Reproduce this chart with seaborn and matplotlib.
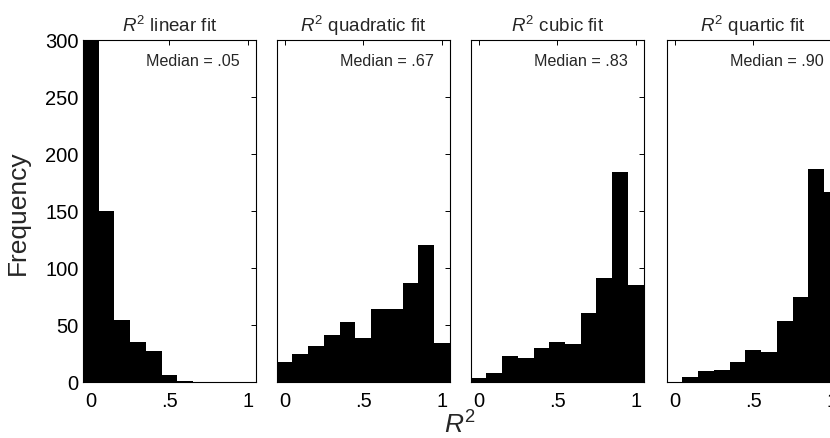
import pandas as pd
import matplotlib
matplotlib.use("Agg")
import matplotlib.pyplot as plt
import seaborn as sns

# bin centres (MATLAB hist style, 0:.1:1) and counts per panel
bin_centers = [0.0, 0.1, 0.2, 0.3, 0.4, 0.5, 0.6, 0.7, 0.8, 0.9, 1.0]
linear_counts = [300, 150, 54, 35, 27, 6, 1, 0, 0, 0, 0]
quadratic_counts = [17, 24, 31, 41, 52, 38, 64, 64, 87, 120, 34]
cubic_counts = [3, 8, 23, 21, 30, 35, 33, 60, 91, 184, 85]
quartic_counts = [0, 4, 9, 10, 17, 28, 26, 53, 74, 187, 166]

panel_titles = ['$R^2$ linear fit', '$R^2$ quadratic fit', '$R^2$ cubic fit', '$R^2$ quartic fit']
medians = ['Median = .05', 'Median = .67', 'Median = .83', 'Median = .90']
x_ticks = [0, 0.5, 1]
x_ticklabels = ['0', '.5', '1']
y_ticks = [0, 50, 100, 150, 200, 250, 300]

sns.set_theme(style='white')
plt.rcParams['font.family'] = ['Liberation Sans', 'DejaVu Sans']
plt.rcParams['mathtext.fontset'] = 'custom'
plt.rcParams['mathtext.rm'] = 'Liberation Sans'
plt.rcParams['mathtext.it'] = 'Liberation Sans:italic'

fig = plt.figure(figsize=(8.3, 4.39), dpi=100)

all_counts = [linear_counts, quadratic_counts, cubic_counts, quartic_counts]
lefts = [0.100, 0.3334, 0.5671, 0.8033]

for i, counts in enumerate(all_counts):
    df = pd.DataFrame({'r2': bin_centers, 'n': counts})
    ax = fig.add_axes([lefts[i], 0.1282, 0.2084, 0.779])
    sns.histplot(data=df, x='r2', weights='n', bins=11, binrange=(-0.05, 1.05),
                 color='black', alpha=1, linewidth=0, edgecolor='black', ax=ax)
    ax.set_xlim(-0.05, 1.05)
    ax.set_ylim(0, 300)
    ax.set_xticks(x_ticks)
    ax.set_xticklabels(x_ticklabels)
    ax.set_yticks(y_ticks)
    ax.tick_params(direction='in', length=3.5, width=0.7, top=True, right=True,
                   labelsize=14.5, colors='black', pad=7)
    ax.tick_params(axis='y', pad=3)
    if i > 0:
        ax.set_yticklabels([])
    for sp in ax.spines.values():
        sp.set_color('black')
        sp.set_linewidth(0.8)
    ax.set_xlabel('')
    ax.set_ylabel('')
    ax.set_title(panel_titles[i], fontsize=13.5, pad=6)
    ax.text(0.365, 0.94, medians[i], transform=ax.transAxes, ha='left',
            va='center', fontsize=11.6)

fig.text(0.021, 0.515, 'Frequency', rotation=90, ha='center', va='center', fontsize=19)
fig.text(0.554, 0.013, '$R^2$', ha='center', va='baseline', fontsize=19)

fig.savefig('out.png', dpi=100)
